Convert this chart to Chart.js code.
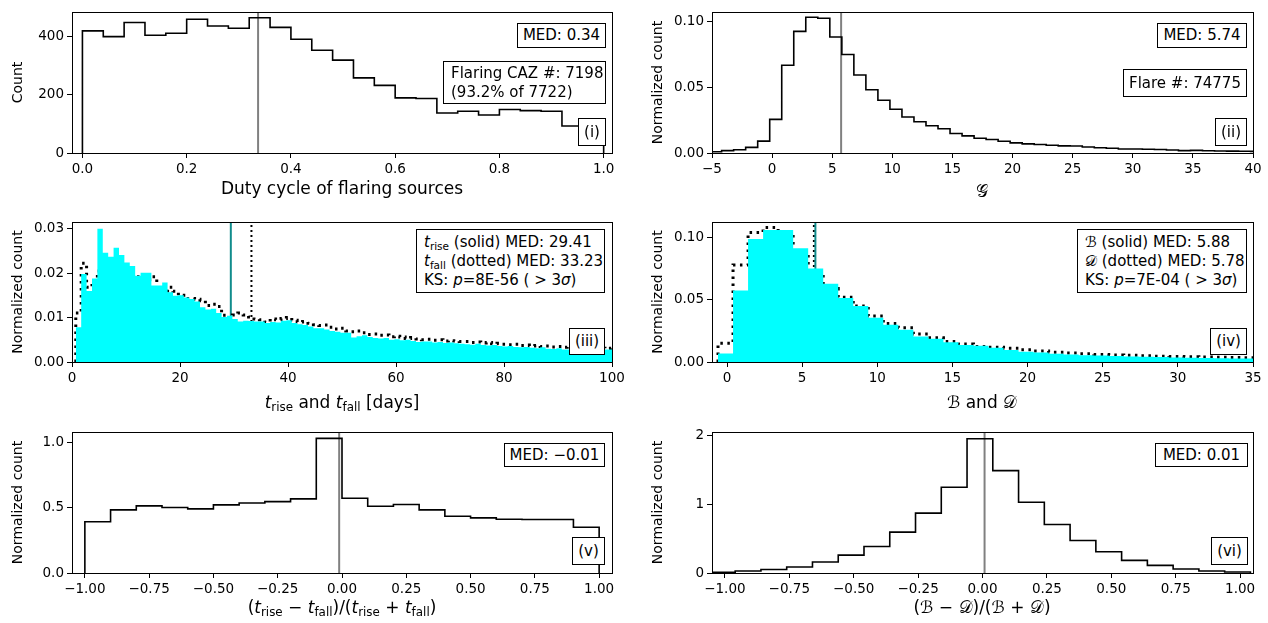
<!DOCTYPE html>
<html><head><meta charset="utf-8">
<script src="https://cdn.jsdelivr.net/npm/chart.js@4.4.0/dist/chart.umd.min.js"></script>
<style>
body{margin:0;background:#fff;}
#fig{position:relative;width:1268px;height:623px;overflow:hidden;font-family:"DejaVu Sans",sans-serif;color:#000;background:#fff;}
#fig canvas{position:absolute;left:0;top:0;}
.box{position:absolute;box-sizing:border-box;border:1px solid #000;background:#fff;font-size:15px;line-height:19px;white-space:nowrap;display:flex;flex-direction:column;justify-content:center;align-items:center;}
.box.left{align-items:flex-start;padding-left:7px;}
.lab{position:absolute;font-size:17px;white-space:nowrap;transform:translate(-50%,-50%);line-height:20px;}
.m{font-style:italic;}
.cal{font-family:"DejaVu Sans","DejaVu Serif","Noto Sans",serif;font-style:normal;}
sub{font-size:70%;vertical-align:-0.25em;line-height:0;font-style:normal;}
</style></head>
<body>
<div id="fig">
<canvas id="c1" width="1268" height="623"></canvas>
<canvas id="c2" width="1268" height="623"></canvas>
<canvas id="c3" width="1268" height="623"></canvas>
<canvas id="c4" width="1268" height="623"></canvas>
<canvas id="c5" width="1268" height="623"></canvas>
<canvas id="c6" width="1268" height="623"></canvas>

<div class="box" style="left:517px;top:23px;width:89px;height:25px">MED: 0.34</div>
<div class="box left" style="left:443px;top:61px;width:163px;height:43px"><div>Flaring CAZ #: 7198</div><div>(93.2% of 7722)</div></div>
<div class="box" style="left:578px;top:118px;width:28px;height:28px">(i)</div>

<div class="box" style="left:1157px;top:23px;width:90px;height:25px">MED: 5.74</div>
<div class="box" style="left:1123px;top:69px;width:124px;height:28px">Flare #: 74775</div>
<div class="box" style="left:1215px;top:118px;width:32px;height:28px">(ii)</div>

<div class="box left" style="left:416px;top:229px;width:189px;height:64px"><div><span class="m">t</span><sub>rise</sub> (solid) MED: 29.41</div><div><span class="m">t</span><sub>fall</sub> (dotted) MED: 33.23</div><div>KS: <span class="m">p</span>=8E-56 ( &gt; 3<span class="m">σ</span>)</div></div>
<div class="box" style="left:569px;top:328px;width:36px;height:27px">(iii)</div>

<div class="box left" style="left:1077px;top:229px;width:170px;height:64px"><div><span class="cal">ℬ</span> (solid) MED: 5.88</div><div><span class="cal">𝒟</span> (dotted) MED: 5.78</div><div>KS: <span class="m">p</span>=7E-04 ( &gt; 3<span class="m">σ</span>)</div></div>
<div class="box" style="left:1210px;top:328px;width:37px;height:27px">(iv)</div>

<div class="box" style="left:504px;top:443px;width:101px;height:24px">MED: −0.01</div>
<div class="box" style="left:572px;top:537px;width:33px;height:28px">(v)</div>

<div class="box" style="left:1155px;top:443px;width:93px;height:24px">MED: 0.01</div>
<div class="box" style="left:1211px;top:537px;width:37px;height:28px">(vi)</div>

<div class="lab" style="left:982px;top:191px"><span class="cal">𝒢</span></div>
<div class="lab" style="left:342px;top:402px"><span class="m">t</span><sub>rise</sub> and <span class="m">t</span><sub>fall</sub> [days]</div>
<div class="lab" style="left:982px;top:402px"><span class="cal">ℬ</span> and <span class="cal">𝒟</span></div>
<div class="lab" style="left:342px;top:607px">(<span class="m">t</span><sub>rise</sub> − <span class="m">t</span><sub>fall</sub>)/(<span class="m">t</span><sub>rise</sub> + <span class="m">t</span><sub>fall</sub>)</div>
<div class="lab" style="left:982px;top:607px">(<span class="cal">ℬ</span> − <span class="cal">𝒟</span>)/(<span class="cal">ℬ</span> + <span class="cal">𝒟</span>)</div>
</div>

<script>
// ================= DATA =================
// Panel (i): duty cycle histogram (counts)
const dutyBinStart = 0.0, dutyBinWidth = 0.04;
const dutyCounts = [421,401,450,406,413,461,438,430,466,433,392,354,320,259,233,190,188,138,144,131,150,146,144,93,27];
const dutyMedian = 0.337;
const dutyTicksX = [0,0.2,0.4,0.6,0.8,1.0];
const dutyTickLabelsX = ['0.0','0.2','0.4','0.6','0.8','1.0'];
const dutyTicksY = [0,200,400];
const dutyTickLabelsY = ['0','200','400'];

// Panel (ii): G distribution (normalized)
const gBinStart = -5.2, gBinWidth = 1.0;
const gDensity = [0.0010,0.0018,0.0025,0.0043,0.0090,0.0255,0.0666,0.0923,0.1030,0.1023,
  0.0880,0.0747,0.0592,0.0480,0.0400,0.0332,0.0273,0.0237,0.0207,0.0184,
  0.0148,0.0130,0.0112,0.0102,0.0089,0.0077,0.0069,0.0064,0.0059,0.0054,
  0.0053,0.0046,0.0040,0.0036,0.0030,0.0030,0.0028,0.0026,0.0023,0.0018,
  0.0020,0.0017,0.0015,0.0014,0.0013,0.0012];
const gMedian = 5.74;
const gTicksX = [-5,0,5,10,15,20,25,30,35,40];
const gTickLabelsX = ['−5','0','5','10','15','20','25','30','35','40'];
const gTicksY = [0,0.05,0.10];
const gTickLabelsY = ['0.00','0.05','0.10'];

// Panel (iii): t_rise (filled) and t_fall (dotted)
const tBinStart = 0.7, tBinWidth = 1.0;
const tRise = [0.0078,0.0198,0.0160,0.0188,0.0300,0.0246,0.0237,0.0257,0.0241,0.0224,0.0216,0.0194,0.0201,0.0201,0.0172,0.0172,0.0179,0.0157,0.0149,0.0150,0.0145,0.0142,0.0136,0.0123,0.0118,0.0120,0.0110,0.0101,0.0104,0.0097,0.0091,0.0093,0.0092,0.0091,0.0091,0.0088,
  0.0090,0.0089,0.0093,0.0094,0.0088,0.0085,0.0083,0.0080,0.0076,0.0076,0.0073,0.0070,0.0068,0.0066,0.0066,0.0055,0.0058,0.0060,0.0056,0.0054,0.0053,0.0054,0.0050,0.0051,0.0049,0.0050,0.0047,0.0045,0.0046,0.0046,0.0044,0.0045,0.0043,0.0044,0.0042,0.0041,
  0.0040,0.0039,0.0041,0.0038,0.0037,0.0038,0.0036,0.0035,0.0036,0.0034,0.0033,0.0034,0.0032,0.0031,0.0033,0.0030,0.0029,0.0031,0.0028,0.0028,0.0029,0.0027,0.0027,0.0028,0.0026,0.0027,0.0028,0.0028];
const tFall = [0.0110,0.0222,0.0168,0.0172,0.0205,0.0225,0.0192,0.0195,0.0196,0.0192,0.0196,0.0192,0.0178,0.0185,0.0192,0.0166,0.0160,0.0168,0.0159,0.0150,0.0143,0.0143,0.0141,0.0138,0.0127,0.0130,0.0125,0.0105,0.0100,0.0106,0.0110,0.0106,0.0101,0.0097,0.0095,0.0090,
  0.0097,0.0095,0.0098,0.0100,0.0094,0.0090,0.0091,0.0087,0.0084,0.0082,0.0083,0.0078,0.0074,0.0076,0.0070,0.0068,0.0070,0.0066,0.0062,0.0063,0.0060,0.0061,0.0057,0.0058,0.0056,0.0053,0.0055,0.0052,0.0050,0.0051,0.0049,0.0050,0.0047,0.0048,0.0047,0.0046,
  0.0046,0.0044,0.0045,0.0043,0.0044,0.0041,0.0042,0.0040,0.0039,0.0040,0.0037,0.0038,0.0036,0.0037,0.0035,0.0036,0.0034,0.0035,0.0033,0.0034,0.0032,0.0033,0.0031,0.0032,0.0030,0.0031,0.0030,0.0031];
const tRiseMedian = 29.41, tFallMedian = 33.23;
const tTicksX = [0,20,40,60,80,100];
const tTickLabelsX = ['0','20','40','60','80','100'];
const tTicksY = [0,0.01,0.02,0.03];
const tTickLabelsY = ['0.00','0.01','0.02','0.03'];

// Panel (iv): B (filled) and D (dotted)
const bdBinStart = -0.6, bdBinWidth = 1.0;
const bDensity = [0.0068,0.0574,0.0989,0.1060,0.1060,0.0915,0.0751,0.0628,0.0514,0.0450,0.0355,0.0300,0.0260,0.0205,0.0186,0.0158,0.0137,0.0131,0.0115,0.0096,0.0082,0.0077,0.0066,0.0060,0.0055,0.0052,0.0048,0.0045,0.0042,0.0040,0.0037,0.0035,0.0033,0.0031,0.0029,0.0028];
const dDensity = [0.0150,0.0780,0.1040,0.1080,0.1030,0.0870,0.0720,0.0590,0.0520,0.0450,0.0370,0.0310,0.0275,0.0225,0.0195,0.0165,0.0145,0.0125,0.0118,0.0110,0.0098,0.0088,0.0078,0.0072,0.0066,0.0060,0.0057,0.0054,0.0050,0.0047,0.0045,0.0043,0.0041,0.0039,0.0037,0.0035];
const bMedian = 5.88, dMedian = 5.78;
const bdTicksX = [0,5,10,15,20,25,30,35];
const bdTickLabelsX = ['0','5','10','15','20','25','30','35'];
const bdTicksY = [0,0.05,0.10];
const bdTickLabelsY = ['0.00','0.05','0.10'];

// Panel (v): (t_rise - t_fall)/(t_rise + t_fall)
const asymTBinStart = -1.0, asymTBinWidth = 0.1;
const asymT = [0.391,0.482,0.513,0.500,0.490,0.520,0.535,0.545,0.566,1.028,0.571,0.510,0.523,0.482,0.434,0.421,0.411,0.409,0.409,0.350];
const asymTMedian = -0.011;
// Panel (vi): (B - D)/(B + D)
const asymBBinStart = -1.06, asymBBinWidth = 0.1;
const asymB = [0.010,0.030,0.050,0.087,0.160,0.260,0.386,0.594,0.870,1.246,1.952,1.488,1.029,0.705,0.473,0.309,0.184,0.111,0.058,0.030,0.015];
const asymBMedian = 0.008;
const asymTicksX = [-1,-0.75,-0.5,-0.25,0,0.25,0.5,0.75,1];
const asymTickLabelsX = ['−1.00','−0.75','−0.50','−0.25','0.00','0.25','0.50','0.75','1.00'];
const asymTTicksY = [0,0.5,1.0];
const asymTTickLabelsY = ['0.0','0.5','1.0'];
const asymBTicksY = [0,1,2];
const asymBTickLabelsY = ['0','1','2'];

// ================= DRAWING =================
const FONT = 'DejaVu Sans';
const YW = 72, XH = 48;
function stepPoints(start, width, vals){
  const pts = [{x:start, y:0}];
  vals.forEach((v,i)=>pts.push({x:start+i*width, y:v}));
  pts.push({x:start+vals.length*width, y:0});
  return pts;
}
function vline(x, ymax){ return [{x:x,y:0},{x:x,y:ymax}]; }
function stepDS(pts, extra){
  return Object.assign({data:pts, stepped:true, pointRadius:0, borderColor:'#000', borderWidth:1.6, fill:false, borderJoinStyle:'miter'}, extra||{});
}
function lineDS(pts, color, extra){
  return Object.assign({data:pts, pointRadius:0, borderColor:color, borderWidth:2, fill:false}, extra||{});
}
const frame = {id:'frame', afterDatasetsDraw(ch){
  const a = ch.chartArea, c = ch.ctx;
  c.save(); c.strokeStyle = '#000'; c.lineWidth = 1;
  c.strokeRect(Math.round(a.left)+0.5, Math.round(a.top)+0.5, Math.round(a.right-a.left), Math.round(a.bottom-a.top));
  c.restore();
}};
function axis(min, max, ticks, labels, title, isX){
  return {
    type:'linear', min:min, max:max,
    afterBuildTicks: s => { s.ticks = ticks.map(v=>({value:v})); },
    afterFit: s => { if(isX){ s.height = XH; } else { s.width = YW; } s.paddingLeft=0; s.paddingRight=0; s.paddingTop=0; s.paddingBottom=0; },
    ticks:{ autoSkip:false, maxRotation:0, minRotation:0, color:'#000', font:{family:FONT, size:13.5}, padding: isX?3:3, callback:(v,i)=>labels[i] },
    grid:{ display:true, drawOnChartArea:false, drawTicks:true, tickLength:5, color:'#000', lineWidth:1 },
    border:{ display:true, color:'#000', width:1 },
    title: title ? {display:true, text:title, color:'#000', font:{family:FONT, size: isX?17:14}, padding: isX?{top:0,bottom:1}:{top:10,bottom:0}} : {display:false}
  };
}
function makeChart(id, area, datasets, xa, ya){
  new Chart(document.getElementById(id), {
    type:'line',
    data:{datasets:datasets},
    options:{
      responsive:false, animation:false, devicePixelRatio:1,
      layout:{padding:{left:area[0]-YW, top:area[1], right:1268-area[2], bottom:623-area[3]-XH}},
      plugins:{legend:{display:false}, tooltip:{enabled:false}},
      scales:{x:xa, y:ya}
    },
    plugins:[frame]
  });
}

const GRAY = '#808080', TEAL = '#108c8c', CYAN = '#00ffff';
const dotted = {borderDash:[2.5,4.5], borderWidth:3, borderCapStyle:'butt'};

// (i)
const y1max = 486;
makeChart('c1', [72,12,612,153], [
  stepDS(stepPoints(dutyBinStart, dutyBinWidth, dutyCounts)),
  lineDS(vline(dutyMedian, y1max), GRAY)
], axis(-0.02, 1.016, dutyTicksX, dutyTickLabelsX, 'Duty cycle of flaring sources', true),
   axis(0, y1max, dutyTicksY, dutyTickLabelsY, 'Count', false));

// (ii)
const y2max = 0.107;
makeChart('c2', [712,12,1253,153], [
  stepDS(stepPoints(gBinStart, gBinWidth, gDensity)),
  lineDS(vline(gMedian, y2max), GRAY)
], axis(-5, 40, gTicksX, gTickLabelsX, null, true),
   axis(0, y2max, gTicksY, gTickLabelsY, 'Normalized count', false));

// (iii)
const y3max = 0.0315;
makeChart('c3', [72,222,612,362], [
  stepDS(stepPoints(tBinStart, tBinWidth, tRise), {fill:'origin', backgroundColor:CYAN, borderWidth:0, borderColor:'rgba(0,0,0,0)'}),
  stepDS(stepPoints(tBinStart, tBinWidth, tFall), dotted),
  lineDS(vline(tRiseMedian, y3max), TEAL),
  lineDS(vline(tFallMedian, y3max), '#000', {borderDash:[2,3]})
], axis(0, 100, tTicksX, tTickLabelsX, null, true),
   axis(0, y3max, tTicksY, tTickLabelsY, 'Normalized count', false));

// (iv)
const y4max = 0.1125;
makeChart('c4', [712,222,1253,362], [
  stepDS(stepPoints(bdBinStart, bdBinWidth, bDensity), {fill:'origin', backgroundColor:CYAN, borderWidth:0, borderColor:'rgba(0,0,0,0)'}),
  stepDS(stepPoints(bdBinStart, bdBinWidth, dDensity), dotted),
  lineDS(vline(bMedian, y4max), TEAL),
  lineDS(vline(dMedian, y4max), '#000', {borderDash:[2,3]})
], axis(-1, 35, bdTicksX, bdTickLabelsX, null, true),
   axis(0, y4max, bdTicksY, bdTickLabelsY, 'Normalized count', false));

// (v)
const y5max = 1.077;
makeChart('c5', [72,432,612,573], [
  stepDS(stepPoints(asymTBinStart, asymTBinWidth, asymT)),
  lineDS(vline(asymTMedian, y5max), GRAY)
], axis(-1.05, 1.05, asymTicksX, asymTickLabelsX, null, true),
   axis(0, y5max, asymTTicksY, asymTTickLabelsY, 'Normalized count', false));

// (vi)
const y6max = 2.05;
makeChart('c6', [712,432,1253,573], [
  stepDS(stepPoints(asymBBinStart, asymBBinWidth, asymB)),
  lineDS(vline(asymBMedian, y6max), GRAY)
], axis(-1.05, 1.05, asymTicksX, asymTickLabelsX, null, true),
   axis(0, y6max, asymBTicksY, asymBTickLabelsY, 'Normalized count', false));
</script>
</body></html>
